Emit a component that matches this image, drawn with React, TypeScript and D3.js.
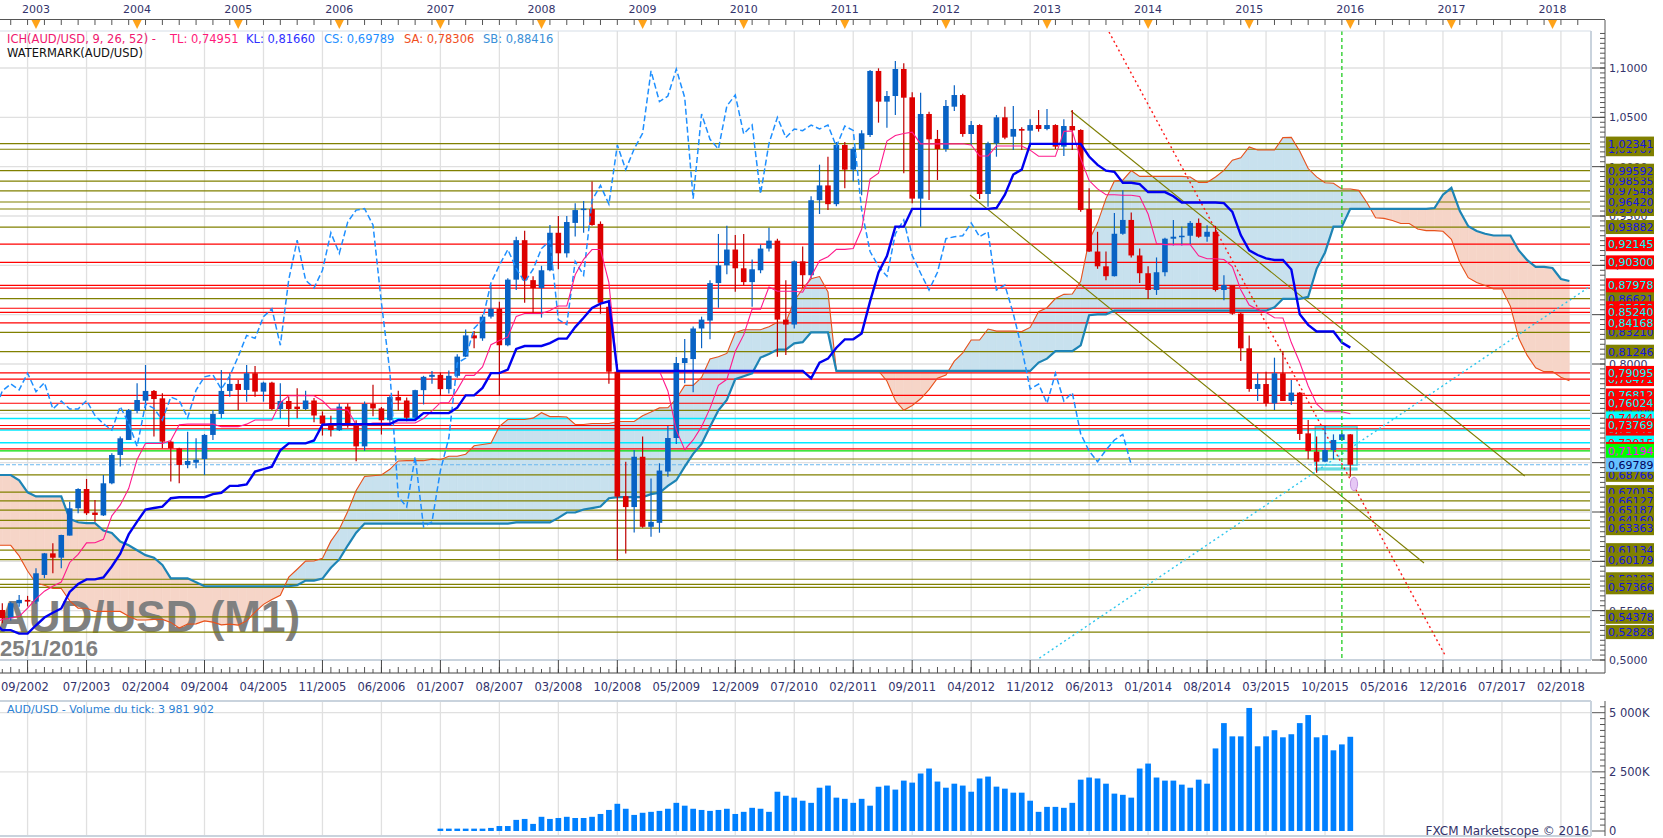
import React from "react";
import * as d3 from "d3";

// ---------- DATA ----------
// month index = months since Jan 2000 (0 = 01/2000)
const firstMonth = 32; // 09/2002
// prettier-ignore
const opens = [
  0.5507, 0.5423, 0.5575, 0.5609,
  0.5592, 0.5862, 0.6081, 0.6037, 0.6261, 0.6538, 0.6733, 0.6494, 0.6466, 0.6791, 0.7078, 0.7230,
  0.7524, 0.7628, 0.7727, 0.7652, 0.7213, 0.7145, 0.6977, 0.7000, 0.7037, 0.7281, 0.7493, 0.7727,
  0.7798, 0.7737, 0.7906, 0.7720, 0.7811, 0.7544, 0.7625, 0.7568, 0.7544, 0.7630, 0.7478, 0.7394,
  0.7330, 0.7568, 0.7400, 0.7165, 0.7595, 0.7550, 0.7430, 0.7665, 0.7630, 0.7455, 0.7735, 0.7870,
  0.7890, 0.7745, 0.7880, 0.8075, 0.8290, 0.8260, 0.8480, 0.8560, 0.8190, 0.8855, 0.9255, 0.8850,
  0.8770, 0.8950, 0.9330, 0.9122, 0.9430, 0.9560, 0.9571, 0.9420, 0.8580, 0.7922, 0.6660, 0.6550,
  0.7060, 0.6350, 0.6390, 0.6910, 0.7250, 0.8010, 0.8050, 0.8360, 0.8440, 0.8820, 0.9000, 0.9160,
  0.8970, 0.8830, 0.8950, 0.9170, 0.9250, 0.8450, 0.8400, 0.9040, 0.8900, 0.9660, 0.9810, 0.9620,
  1.0220, 0.9970, 1.0180, 1.0321, 1.0970, 1.0659, 1.0716, 1.0990, 1.0703, 0.9676, 1.0534, 1.0281,
  1.0179, 1.0608, 1.0726, 1.0331, 1.0422, 0.9723, 1.0236, 1.0500, 1.0304, 1.0382, 1.0365, 1.0422,
  1.0382, 1.0422, 1.0203, 1.0412, 1.0372, 0.9571, 0.9140, 0.8990, 0.8890, 0.9320, 0.9460, 0.9100,
  0.8920, 0.8750, 0.8930, 0.9270, 0.9290, 0.9300, 0.9430, 0.9290, 0.9340, 0.8750, 0.8800, 0.8510,
  0.8159, 0.7747, 0.7797, 0.7601, 0.7906, 0.7625, 0.7710, 0.7297, 0.7112, 0.7010, 0.7128, 0.7230,
  0.7287,
];
// prettier-ignore
const highs = [
  0.5575, 0.5590, 0.5660, 0.5650,
  0.5929, 0.6085, 0.6183, 0.6270, 0.6605, 0.6740, 0.6835, 0.6622, 0.6875, 0.7095, 0.7264, 0.7545,
  0.7804, 0.7990, 0.7737, 0.7703, 0.7220, 0.7150, 0.7314, 0.7247, 0.7290, 0.7534, 0.7939, 0.7906,
  0.7838, 0.7990, 0.7980, 0.7821, 0.7820, 0.7804, 0.7669, 0.7754, 0.7730, 0.7656, 0.7520, 0.7475,
  0.7600, 0.7600, 0.7430, 0.7620, 0.7790, 0.7565, 0.7680, 0.7730, 0.7660, 0.7740, 0.7880, 0.7930,
  0.7915, 0.7935, 0.8100, 0.8350, 0.8335, 0.8500, 0.8800, 0.8630, 0.8870, 0.9290, 0.9350, 0.8890,
  0.8995, 0.9410, 0.9500, 0.9500, 0.9628, 0.9652, 0.9850, 0.9445, 0.8650, 0.8000, 0.7010, 0.7128,
  0.7264, 0.6840, 0.6994, 0.7372, 0.8070, 0.8254, 0.8380, 0.8480, 0.8850, 0.9318, 0.9400, 0.9307,
  0.9318, 0.9060, 0.9210, 0.9380, 0.9270, 0.8850, 0.9050, 0.9190, 0.9700, 1.0020, 1.0100, 1.0250,
  1.0250, 1.0200, 1.0370, 1.0980, 1.0997, 1.0767, 1.1071, 1.1047, 1.0753, 1.0750, 1.0557, 1.0372,
  1.0676, 1.0825, 1.0740, 1.0463, 1.0430, 1.0253, 1.0524, 1.0608, 1.0615, 1.0399, 1.0480, 1.0574,
  1.0584, 1.0430, 1.0480, 1.0574, 1.0380, 0.9781, 0.9340, 0.9140, 0.9530, 0.9760, 0.9535, 0.9170,
  0.8990, 0.9080, 0.9280, 0.9460, 0.9390, 0.9450, 0.9474, 0.9405, 0.9400, 0.8900, 0.8800, 0.8520,
  0.8290, 0.7906, 0.7922, 0.8064, 0.8132, 0.7838, 0.7715, 0.7433, 0.7264, 0.7372, 0.7287, 0.7300,
  0.7290,
];
// prettier-ignore
const lows = [
  0.5372, 0.5400, 0.5540, 0.5543,
  0.5570, 0.5828, 0.5879, 0.5929, 0.6261, 0.6487, 0.6470, 0.6402, 0.6460, 0.6780, 0.6960, 0.7230,
  0.7500, 0.7534, 0.7264, 0.7145, 0.6808, 0.6791, 0.6943, 0.6943, 0.6875, 0.7230, 0.7450, 0.7669,
  0.7534, 0.7618, 0.7669, 0.7618, 0.7534, 0.7450, 0.7365, 0.7450, 0.7535, 0.7410, 0.7275, 0.7265,
  0.7320, 0.7355, 0.7015, 0.7120, 0.7470, 0.7285, 0.7375, 0.7530, 0.7420, 0.7440, 0.7590, 0.7800,
  0.7675, 0.7700, 0.7860, 0.8070, 0.8160, 0.8235, 0.8460, 0.7675, 0.8180, 0.8750, 0.8620, 0.8510,
  0.8470, 0.8940, 0.8960, 0.9080, 0.9291, 0.9331, 0.9400, 0.8510, 0.7800, 0.6009, 0.6080, 0.6291,
  0.6340, 0.6250, 0.6290, 0.6858, 0.7190, 0.7805, 0.7713, 0.8160, 0.8250, 0.8570, 0.8910, 0.8733,
  0.8800, 0.8580, 0.8920, 0.9140, 0.8074, 0.8090, 0.8360, 0.8770, 0.8870, 0.9520, 0.9560, 0.9600,
  0.9780, 0.9850, 0.9710, 1.0300, 1.0446, 1.0395, 1.0524, 0.9933, 0.9628, 0.9392, 0.9662, 0.9865,
  1.0152, 1.0564, 1.0304, 1.0220, 0.9672, 0.9595, 1.0101, 1.0277, 1.0169, 1.0169, 1.0203, 1.0355,
  1.0370, 1.0179, 1.0108, 1.0169, 0.9544, 0.9135, 0.8965, 0.8848, 0.8888, 0.9310, 0.9080, 0.8820,
  0.8660, 0.8700, 0.8890, 0.9200, 0.9200, 0.9210, 0.9280, 0.9240, 0.8735, 0.8645, 0.8500, 0.8030,
  0.7720, 0.7625, 0.7568, 0.7534, 0.7625, 0.7585, 0.7230, 0.7034, 0.6899, 0.7005, 0.7034, 0.7220,
  0.6858,
];
// prettier-ignore
const closes = [
  0.5423, 0.5575, 0.5609, 0.5592,
  0.5879, 0.6081, 0.6037, 0.6267, 0.6537, 0.6733, 0.6487, 0.6470, 0.6791, 0.7078, 0.7247, 0.7534,
  0.7635, 0.7727, 0.7645, 0.7213, 0.7145, 0.6977, 0.7017, 0.7030, 0.7281, 0.7493, 0.7727, 0.7798,
  0.7737, 0.7906, 0.7720, 0.7811, 0.7544, 0.7625, 0.7544, 0.7544, 0.7630, 0.7478, 0.7394, 0.7330,
  0.7568, 0.7400, 0.7165, 0.7595, 0.7550, 0.7430, 0.7665, 0.7630, 0.7455, 0.7735, 0.7870, 0.7890,
  0.7745, 0.7880, 0.8075, 0.8290, 0.8260, 0.8480, 0.8560, 0.8190, 0.8855, 0.9255, 0.8850, 0.8770,
  0.8950, 0.9330, 0.9122, 0.9439, 0.9560, 0.9575, 0.9409, 0.8620, 0.7922, 0.6656, 0.6550, 0.7060,
  0.6350, 0.6400, 0.6920, 0.7250, 0.8010, 0.8060, 0.8360, 0.8450, 0.8820, 0.9000, 0.9160, 0.8970,
  0.8830, 0.8960, 0.9170, 0.9250, 0.8450, 0.8400, 0.9040, 0.8900, 0.9660, 0.9810, 0.9620, 1.0220,
  0.9970, 1.0180, 1.0338, 1.0970, 1.0659, 1.0716, 1.0990, 1.0699, 0.9676, 1.0534, 1.0277, 1.0179,
  1.0615, 1.0726, 1.0331, 1.0422, 0.9723, 1.0236, 1.0500, 1.0294, 1.0382, 1.0365, 1.0422, 1.0382,
  1.0422, 1.0203, 1.0412, 1.0368, 0.9561, 0.9140, 0.8990, 0.8890, 0.9320, 0.9460, 0.9100, 0.8920,
  0.8750, 0.8930, 0.9270, 0.9290, 0.9300, 0.9430, 0.9290, 0.9340, 0.8750, 0.8800, 0.8510, 0.8159,
  0.7747, 0.7797, 0.7601, 0.7906, 0.7625, 0.7710, 0.7291, 0.7118, 0.7010, 0.7128, 0.7230, 0.7287,
  0.6979,
];

// history before the first drawn bar (03/1996 .. 08/2002), used by the Ichimoku look-back
const warmupStart = -46;
// prettier-ignore
const warmupHighs = [
  0.7900, 0.7980, 0.8040, 0.7960, 0.7890, 0.7950, 0.8000, 0.8000, 0.8250, 0.8020,
  0.8017, 0.7950, 0.8000, 0.7850, 0.7800, 0.7625, 0.7550, 0.7450, 0.7350, 0.7300, 0.7150, 0.6720,
  0.6700, 0.6880, 0.6800, 0.6650, 0.6450, 0.6300, 0.6350, 0.6100, 0.6000, 0.6400, 0.6450, 0.6350,
  0.6450, 0.6410, 0.6450, 0.6630, 0.6720, 0.6700, 0.6700, 0.6530, 0.6620, 0.6600, 0.6500, 0.6630,
  0.6720, 0.6590, 0.6270, 0.6180, 0.5990, 0.6050, 0.6000, 0.5830, 0.5830, 0.5450, 0.5350, 0.5630,
  0.5700, 0.5500, 0.5260, 0.5150, 0.5240, 0.5200, 0.5190, 0.5350, 0.5300, 0.5150, 0.5300, 0.5210,
  0.5240, 0.5240, 0.5360, 0.5450, 0.5700, 0.5750, 0.5760, 0.5520,
];
// prettier-ignore
const warmupLows = [
  0.7600, 0.7700, 0.7850, 0.7800, 0.7700, 0.7800, 0.7840, 0.7850, 0.7870, 0.7870,
  0.7640, 0.7650, 0.7750, 0.7660, 0.7550, 0.7380, 0.7330, 0.7300, 0.7120, 0.6900, 0.6700, 0.6450,
  0.6350, 0.6500, 0.6550, 0.6300, 0.6150, 0.5900, 0.6050, 0.5500, 0.5700, 0.5900, 0.6150, 0.6050,
  0.6080, 0.6170, 0.6120, 0.6280, 0.6450, 0.6400, 0.6400, 0.6300, 0.6380, 0.6340, 0.6280, 0.6320,
  0.6500, 0.6140, 0.6050, 0.5900, 0.5710, 0.5770, 0.5790, 0.5710, 0.5390, 0.5150, 0.5065, 0.5200,
  0.5420, 0.5170, 0.4840, 0.4775, 0.4990, 0.4970, 0.4950, 0.5060, 0.4800, 0.4890, 0.5030, 0.5000,
  0.5060, 0.5090, 0.5120, 0.5290, 0.5440, 0.5520, 0.5350, 0.5310,
];

// tick volume, thousands, from 01/2007
const volumeStart = 84;
// prettier-ignore
const volumesK = [
  100, 100, 100, 100, 100, 100, 130, 210, 210, 470, 510, 300,
  600, 510, 550, 600, 550, 550, 600, 720, 890, 1150, 940, 680,
  770, 810, 850, 940, 1190, 1070, 940, 890, 850, 890, 940, 720,
  810, 980, 940, 810, 1660, 1490, 1410, 1280, 1190, 1830, 1920, 1410,
  1360, 1190, 1360, 1070, 1870, 1920, 1750, 2130, 2045, 2430, 2640, 2090,
  1830, 2000, 1920, 1660, 2220, 2300, 1875, 1790, 1620, 1620, 1280, 810,
  1020, 1020, 980, 1190, 2170, 2260, 2220, 2000, 1580, 1530, 1410, 2640,
  2850, 2260, 2130, 2130, 1960, 1830, 2170, 2000, 3490, 4560, 4000, 4000,
  5200, 3580, 4000, 4260, 3960, 4090, 4560, 4900, 3960, 4050, 3410, 3660,
  3982,
];

const yearLabels = ["2003","2004","2005","2006","2007","2008","2009","2010","2011","2012","2013","2014","2015","2016","2017","2018"];
const dateLabels = ["09/2002","07/2003","02/2004","09/2004","04/2005","11/2005","06/2006","01/2007","08/2007","03/2008","10/2008","05/2009","12/2009","07/2010","02/2011","09/2011","04/2012","11/2012","06/2013","01/2014","08/2014","03/2015","10/2015","05/2016","12/2016","07/2017","02/2018"];

// horizontal levels, in drawing order; o=olive r=red c=cyan g=green b=current price
// prettier-ignore
const levelPrices = [1.01767,0.95708,0.97548,0.98535,0.99592,1.02341,0.96420,0.93882,0.92145,0.90300,0.87700,0.86621,0.87978,0.83210,0.85650,0.85240,0.84168,0.81246,0.78471,0.79095,0.75300,0.76812,0.76024,0.74484,0.73310,0.73440,0.73769,0.72015,0.71390,0.70370,0.71194,0.68766,0.69789,0.67015,0.66127,0.65187,0.64160,0.63363,0.61134,0.60179,0.58183,0.57670,0.57366,0.54378,0.52828];
// prettier-ignore
const levelKinds = ["o","o","o","o","o","o","o","o","r","r","r","o","r","o","r","r","r","o","r","r","o","r","r","c","c","r","r","c","r","o","g","o","b","o","o","o","o","o","o","o","o","o","o","o","o"];

// drawn trend lines: [month, price] end points
const redTrend = [[163.36, 1.1365], [203.36, 0.5031]];
const oliveUpper = [[158.85, 1.0564], [212.7, 0.6865]];
const oliveLower = [[146.86, 0.9713], [200.75, 0.5983]];
const cyanTrend = [[154.6, 0.499], [220.6, 0.8795]];
const markerMonth = 191;
const boxMonths = [187.84, 192.8];
const boxPrices = [0.7362, 0.6976];
const bandPrices = [0.6946, 0.6926];
const ellipseAt = [192.44, 0.6784];

const legend = { ich: "ICH(AUD/USD, 9, 26, 52) -", tl: "TL: 0,74951", kl: "KL: 0,81660", cs: "CS: 0,69789", sa: "SA: 0,78306", sb: "SB: 0,88416" };

// ---------- CHART ----------
const UI = "DejaVu Sans, Verdana, sans-serif";
const NAVY = "#33336b";
const PLOT_R = 1591, PLOT_T = 31, PLOT_B = 660;
const AXIS_X = 1605;
const VOL_T = 701, VOL_B = 836;

const hiAt = (m: number) => (m < firstMonth ? warmupHighs[m - warmupStart] : highs[m - firstMonth]);
const loAt = (m: number) => (m < firstMonth ? warmupLows[m - warmupStart] : lows[m - firstMonth]);
const midRange = (m: number, n: number) => {
  let hi = -Infinity, lo = Infinity;
  for (let k = m - n + 1; k <= m; k++) { hi = Math.max(hi, hiAt(k)); lo = Math.min(lo, loAt(k)); }
  return (hi + lo) / 2;
};
const fmt = (v: number, d: number) => v.toFixed(d).replace(".", ",");

export default function App() {
  const lastMonth = firstMonth + closes.length - 1;
  const x = d3.scaleLinear().domain([36, lastMonth]).range([36, 36 + (lastMonth - 36) * 8.425]);
  const y = d3.scaleLinear().domain([0.5, 1.1]).range([660, 68]);
  const yv = d3.scaleLinear().domain([0, 5000]).range([831, 712.7]);

  const line = d3.line<[number, number]>().x((d) => x(d[0])).y((d) => y(d[1]));

  const tenkan: [number, number][] = [];
  const kijun: [number, number][] = [];
  for (let m = firstMonth - 1; m <= lastMonth; m++) {
    tenkan.push([m, midRange(m, 9)]);
    kijun.push([m, midRange(m, 26)]);
  }
  const spanA: [number, number][] = [];
  const spanB: [number, number][] = [];
  for (let q = firstMonth - 1; q <= lastMonth + 26; q++) {
    const m = q - 26;
    spanA.push([q, (midRange(m, 9) + midRange(m, 26)) / 2]);
    spanB.push([q, midRange(m, 52)]);
  }
  const chikou: [number, number][] = [];
  for (let q = firstMonth - 1; q + 26 <= lastMonth; q++) chikou.push([q, closes[q + 26 - firstMonth]]);

  // cloud polygons
  const polys: { pts: number[][]; up: boolean }[] = [];
  for (let i = 0; i < spanA.length - 1; i++) {
    const X0 = x(spanA[i][0]), X1 = x(spanA[i + 1][0]);
    const a0 = y(spanA[i][1]), a1 = y(spanA[i + 1][1]);
    const b0 = y(spanB[i][1]), b1 = y(spanB[i + 1][1]);
    const d0 = spanA[i][1] - spanB[i][1], d1 = spanA[i + 1][1] - spanB[i + 1][1];
    if (d0 * d1 >= 0) polys.push({ pts: [[X0, a0], [X1, a1], [X1, b1], [X0, b0]], up: d0 + d1 >= 0 });
    else {
      const t = d0 / (d0 - d1);
      const Xc = X0 + (X1 - X0) * t, Yc = a0 + (a1 - a0) * t;
      polys.push({ pts: [[X0, a0], [Xc, Yc], [X0, b0]], up: d0 > 0 });
      polys.push({ pts: [[Xc, Yc], [X1, a1], [X1, b1]], up: d1 > 0 });
    }
  }

  const majorMonths = dateLabels.map((_, k) => 35 + 7 * k);
  const priceGrid = d3.range(0.55, 1.1001, 0.05);
  const priceMinor = d3.range(0.5, 1.1375, 0.005);
  const allMonths = d3.range(30, 221);

  const levelColor: Record<string, string> = { o: "#808000", r: "#ff0000", c: "#00eaff", g: "#00dd00", b: "#6ab8f0" };
  const boxFill: Record<string, string> = { o: "#808000", r: "#ff0000", c: "#00ffff", g: "#00ff00", b: "#66c2ff" };
  const boxText: Record<string, string> = { o: "#1414e6", r: "#00ffff", c: "#ff0000", g: "#ff00ff", b: "#00005a" };

  const BLUE = "#0862c4", RED = "#dd0000";

  return (
    <svg width={1663} height={838} style={{ position: "absolute", left: 0, top: 0, background: "#fff" }} fontFamily={UI}>
      <defs>
        <clipPath id="plotClip"><rect x={0} y={PLOT_T} width={PLOT_R} height={PLOT_B - PLOT_T} /></clipPath>
      </defs>
      <rect width={1663} height={838} fill="#fff" />

      {/* top year ruler */}
      <line x1={0} x2={AXIS_X} y1={19.5} y2={19.5} stroke="#555" />
      {allMonths.filter((m) => m % 2 === 1).map((m) => (
        <line key={"yt" + m} x1={x(m)} x2={x(m)} y1={19.5} y2={25} stroke="#555" />
      ))}
      {yearLabels.map((s, k) => {
        const xx = x(36 + 12 * k);
        return (
          <g key={"yr" + s}>
            <text x={xx} y={13} fontSize={11} textAnchor="middle" fill={NAVY}>{s}</text>
            <path d={`M${xx - 4.5},20 L${xx + 4.5},20 L${xx},29 Z`} fill="#ffa31a" />
          </g>
        );
      })}

      {/* grid */}
      <g stroke="#e0e0e0" strokeWidth={1.3}>
        {majorMonths.map((m) => <line key={"vg" + m} x1={x(m)} x2={x(m)} y1={PLOT_T} y2={PLOT_B} />)}
        {majorMonths.map((m) => <line key={"vv" + m} x1={x(m)} x2={x(m)} y1={VOL_T} y2={VOL_B} />)}
        {priceGrid.map((p) => <line key={"hg" + p} x1={0} x2={PLOT_R} y1={y(p)} y2={y(p)} />)}
        {[2500, 5000].map((v) => <line key={"vh" + v} x1={0} x2={PLOT_R} y1={yv(v)} y2={yv(v)} />)}
      </g>

      <g clipPath="url(#plotClip)">
        {/* cloud */}
        {polys.map((p, i) => (
          <polygon key={"cl" + i} points={p.pts.map((q) => q.join(",")).join(" ")}
            fill={p.up ? "#c8e1ee" : "#f6d5c8"} stroke={p.up ? "#c8e1ee" : "#f6d5c8"} strokeWidth={0.6} />
        ))}

        {/* watermark */}
        <text x={-3} y={632} fontFamily="Liberation Sans, Arial, sans-serif" fontWeight="bold" fontSize={44} fill="#808080">AUD/USD (M1)</text>
        <text x={0} y={656} fontFamily="Liberation Sans, Arial, sans-serif" fontWeight="bold" fontSize={22} fill="#808080">25/1/2016</text>

        {/* annotation box */}
        <rect x={x(boxMonths[0])} y={y(boxPrices[0])} width={x(boxMonths[1]) - x(boxMonths[0])}
          height={y(boxPrices[1]) - y(boxPrices[0])} fill="#dcffff" fillOpacity={0.7} stroke="#3fd6dc" strokeWidth={1.5} />
        <rect x={x(boxMonths[0])} y={y(bandPrices[0])} width={x(boxMonths[1]) - x(boxMonths[0])}
          height={y(bandPrices[1]) - y(bandPrices[0])} fill="#8fe3ea" stroke="#3fd6dc" strokeWidth={1} />

        {/* level lines */}
        {levelPrices.map((p, i) => (
          <line key={"lv" + i} x1={0} x2={PLOT_R} y1={y(p)} y2={y(p)} stroke={levelColor[levelKinds[i]]}
            strokeWidth={levelKinds[i] === "c" ? 1.5 : 1.2} strokeDasharray={levelKinds[i] === "b" ? "4,2" : undefined} />
        ))}

        {/* trend lines */}
        <path d={line(oliveUpper as [number, number][]) || ""} stroke="#7d7d00" strokeWidth={1.1} fill="none" />
        <path d={line(oliveLower as [number, number][]) || ""} stroke="#7d7d00" strokeWidth={1.1} fill="none" />
        <path d={line(redTrend as [number, number][]) || ""} stroke="#ff1a1a" strokeWidth={1.4} strokeDasharray="2,3" fill="none" />
        <path d={line(cyanTrend as [number, number][]) || ""} stroke="#2cc6ee" strokeWidth={1.4} strokeDasharray="2,3" fill="none" />

        {/* spans */}
        <path d={line(spanA) || ""} stroke="#e8521c" strokeWidth={1.1} fill="none" />
        <path d={line(spanB) || ""} stroke="#1d84b5" strokeWidth={2.2} fill="none" />

        {/* candles */}
        {closes.map((c, i) => {
          const m = firstMonth + i;
          const o = opens[i];
          const up = c >= o;
          const col = up ? BLUE : RED;
          const cx = x(m);
          const top = y(Math.max(o, c)), bot = y(Math.min(o, c));
          return (
            <g key={"cd" + m}>
              <line x1={cx} x2={cx} y1={y(highs[i])} y2={y(lows[i])} stroke={up ? BLUE : "#c00000"} strokeWidth={1.2} />
              <rect x={cx - 2.8} y={top} width={5.6} height={Math.max(1.5, bot - top)} fill={col} />
            </g>
          );
        })}

        {/* tenkan / kijun / chikou */}
        <path d={line(chikou) || ""} stroke="#1e8fff" strokeWidth={1.5} strokeDasharray="6,3" fill="none" />
        <path d={line(tenkan) || ""} stroke="#ff1a8c" strokeWidth={1.1} fill="none" />
        <path d={line(kijun) || ""} stroke="#0000f0" strokeWidth={2.4} fill="none" />

        <line x1={x(markerMonth)} x2={x(markerMonth)} y1={PLOT_T} y2={PLOT_B} stroke="#22cc22" strokeWidth={1.3} strokeDasharray="4,3" />
        <ellipse cx={x(ellipseAt[0])} cy={y(ellipseAt[1])} rx={3.6} ry={6.8} fill="#e6c8f5" stroke="#c496e0" strokeWidth={1} />
      </g>

      {/* frames */}
      <line x1={0} x2={PLOT_R} y1={PLOT_T} y2={PLOT_T} stroke="#d5dde6" strokeWidth={1} />
      <line x1={0} x2={PLOT_R} y1={PLOT_B} y2={PLOT_B} stroke="#c9d3dd" strokeWidth={2} />
      <line x1={PLOT_R} x2={PLOT_R} y1={PLOT_T} y2={PLOT_B} stroke="#c9d3dd" strokeWidth={2} />
      <line x1={0} x2={PLOT_R} y1={VOL_T} y2={VOL_T} stroke="#c9d3dd" strokeWidth={2} />
      <line x1={0} x2={PLOT_R} y1={VOL_B} y2={VOL_B} stroke="#c9d3dd" strokeWidth={2} />
      <line x1={PLOT_R} x2={PLOT_R} y1={VOL_T} y2={VOL_B} stroke="#c9d3dd" strokeWidth={2} />

      {/* legend */}
      <text y={43} fontSize={11.5}>
        <tspan x={7} fill="#f0186e">{legend.ich}</tspan>
        <tspan x={170} fill="#ff1a7a">{legend.tl}</tspan>
        <tspan x={246} fill="#3030ff">{legend.kl}</tspan>
        <tspan x={324} fill="#1e8fff">{legend.cs}</tspan>
        <tspan x={404} fill="#f04e1e">{legend.sa}</tspan>
        <tspan x={483} fill="#3a90d8">{legend.sb}</tspan>
      </text>
      <text x={7} y={56.5} fontSize={11.5} fill="#111">WATERMARK(AUD/USD)</text>

      {/* date axis */}
      <line x1={0} x2={AXIS_X} y1={673} y2={673} stroke="#444" />
      {allMonths.map((m) => (
        <line key={"dt" + m} x1={x(m)} x2={x(m)} y1={m % 2 === 0 ? 669 : 667} y2={673} stroke="#555" />
      ))}
      {majorMonths.map((m) => <line key={"dM" + m} x1={x(m)} x2={x(m)} y1={660} y2={673} stroke="#444" />)}
      {dateLabels.map((s, k) => (
        <text key={"dl" + s} x={k === 0 ? 1 : x(majorMonths[k])} y={691} fontSize={11.5} fill={NAVY}
          textAnchor={k === 0 ? "start" : "middle"}>{s}</text>
      ))}

      {/* price axis */}
      <line x1={AXIS_X} x2={AXIS_X} y1={20} y2={673} stroke="#555" />
      {priceMinor.filter((p) => y(p) >= PLOT_T).map((p, i) => (
        <line key={"pm" + i} x1={1600} x2={AXIS_X} y1={y(p)} y2={y(p)} stroke="#555" />
      ))}
      {d3.range(0.5, 1.1001, 0.05).map((p) => (
        <g key={"pa" + p}>
          <line x1={1592} x2={AXIS_X} y1={y(p)} y2={y(p)} stroke="#444" />
          <text x={1609} y={y(p) + 4} fontSize={11} fill={NAVY}>{fmt(p, 4)}</text>
        </g>
      ))}
      {levelPrices.map((p, i) => (
        <g key={"lb" + i}>
          <rect x={1606} y={y(p) - 7} width={48} height={14} fill={boxFill[levelKinds[i]]} />
          <text x={1608} y={y(p) + 4} fontSize={11} fill={boxText[levelKinds[i]]}>{fmt(p, 5)}</text>
        </g>
      ))}

      {/* volume */}
      <text x={7} y={713} fontSize={11} fill="#2a7fd4">AUD/USD - Volume du tick: 3 981 902</text>
      {volumesK.map((v, i) => {
        const m = volumeStart + i;
        return <rect key={"vb" + m} x={x(m) - 2.85} y={yv(v)} width={5.7} height={yv(0) - yv(v)} fill="#0080ff" />;
      })}
      <line x1={AXIS_X} x2={AXIS_X} y1={VOL_T} y2={VOL_B} stroke="#555" />
      {d3.range(0, 5501, 250).filter((v) => yv(v) >= VOL_T + 2).map((v) => (
        <line key={"vm" + v} x1={v % 2500 === 0 ? 1592 : 1600} x2={AXIS_X} y1={yv(v)} y2={yv(v)} stroke="#555" />
      ))}
      {[0, 2500, 5000].map((v) => (
        <text key={"vl" + v} x={1609} y={yv(v) + 4} fontSize={11.5} fill={NAVY}>{v === 0 ? "0" : `${Math.floor(v / 1000)} ${String(v % 1000).padStart(3, "0")}K`}</text>
      ))}
      <text x={1589} y={835} fontSize={12} fill={NAVY} textAnchor="end">FXCM Marketscope © 2016</text>
    </svg>
  );
}
